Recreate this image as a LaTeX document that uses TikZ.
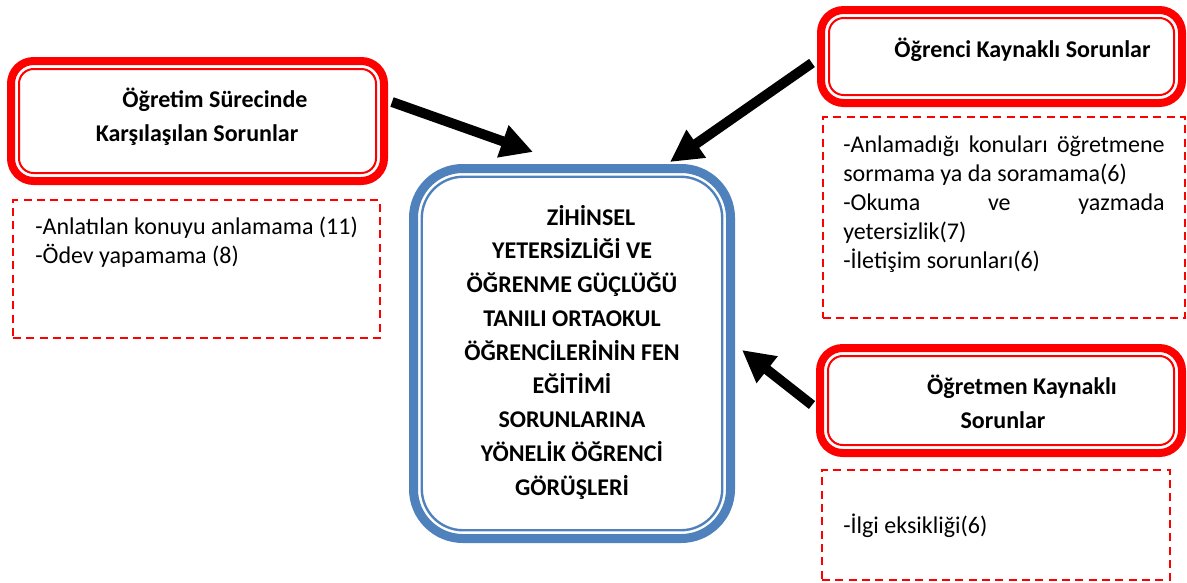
\documentclass[tikz,border=0pt]{standalone}
\usepackage{fontspec}
\setmainfont{Carlito}
\usetikzlibrary{arrows.meta}
\definecolor{ofblue}{HTML}{4F81BD}
\begin{document}
\begin{tikzpicture}[x=0.75pt,y=-0.75pt,
 redbox/.style={draw=red, line width=6pt, rounded corners=17pt, outer sep=0pt, inner sep=0pt},
 innerred/.style={draw=red, line width=1.5pt, rounded corners=11pt},
 bluebox/.style={draw=ofblue, line width=6.75pt, rounded corners=37pt, outer sep=0pt, inner sep=0pt},
 innerblue/.style={draw=ofblue, line width=1.8pt, rounded corners=31pt},
 dashbox/.style={draw=red, line width=1.5pt, dash pattern=on 6pt off 4pt, outer sep=0pt, inner sep=0pt},
 title/.style={font=\fontsize{18}{25.3}\selectfont\bfseries, align=center, inner sep=0pt, anchor=base},
 body/.style={font=\fontsize{18}{21.3}\selectfont, align=left, inner sep=0pt, anchor=base west},
 bigarrow/.style={line width=7.5pt, -{Triangle[length=24pt,width=24pt]}}
]
\useasboundingbox (0,0) rectangle (1187,582);

% main boxes
\node[redbox, minimum width=279.75pt, minimum height=90pt] (b1) at (197.5,121) {};
\node[redbox, minimum width=270.75pt, minimum height=69.75pt] (b2) at (1001.5,56.5) {};
\node[redbox, minimum width=271.5pt, minimum height=78.75pt] (b3) at (1001,400.5) {};
\node[bluebox, minimum width=237.75pt, minimum height=277.5pt] (c) at (572,353.5) {};
\foreach \n in {b1,b2,b3}
  \draw[innerred] ([shift={(6pt,6pt)}]\n.south west) rectangle ([shift={(-6pt,-6pt)}]\n.north east);
\draw[innerblue] ([shift={(6.2pt,6.2pt)}]c.south west) rectangle ([shift={(-6.2pt,-6.2pt)}]c.north east);

% dashed boxes
\node[dashbox, minimum width=275.25pt, minimum height=103.5pt] (d1) at (196.5,269) {};
\node[dashbox, minimum width=271.5pt, minimum height=150.75pt] (d2) at (1004,217.5) {};
\node[dashbox, minimum width=261pt, minimum height=82.5pt] (d3) at (996,525) {};

% titles (anchor = baseline of last line)
\node[title] (t1) at (197,141) {\hspace*{27pt}Öğretim Sürecinde\\Karşılaşılan Sorunlar};
\node[title] (t2) at (1022.5,57) {Öğrenci Kaynaklı Sorunlar};
\node[title] (t3) at (1003,428) {\hspace*{28.5pt}Öğretmen Kaynaklı\\Sorunlar};
\node[title] (tc) at (572,495) {\hspace*{28.5pt}ZİHİNSEL\\YETERSİZLİĞİ VE\\ÖĞRENME GÜÇLÜĞÜ\\TANILI ORTAOKUL\\ÖĞRENCİLERİNİN FEN\\EĞİTİMİ\\SORUNLARINA\\YÖNELİK ÖĞRENCİ\\GÖRÜŞLERİ};

% body texts (anchor = baseline of last line)
\node[body] (x1) at (35,263) {-Anlatılan konuyu anlamama (11)\\-Ödev yapamama (8)};
\node[body, font=\fontsize{18}{21.75}\selectfont] (x2) at (843,268) {\makebox[241pt][s]{-Anlamadığı konuları öğretmene}\\sormama ya da soramama(6)\\\makebox[241pt][s]{-Okuma ve yazmada}\\yetersizlik(7)\\-İletişim sorunları(6)};
\node[body] (x3) at (843,533) {-İlgi eksikliği(6)};

% arrows
\coordinate (a1s) at (392,102);
\coordinate (a1e) at (533,152);
\coordinate (a2s) at (812,63);
\coordinate (a2e) at (670,162);
\coordinate (a3s) at (812,405);
\coordinate (a3e) at (742,350);
\draw[bigarrow] (a1s) -- (a1e);
\draw[bigarrow] (a2s) -- (a2e);
\draw[bigarrow] (a3s) -- (a3e);
\end{tikzpicture}
\end{document}
